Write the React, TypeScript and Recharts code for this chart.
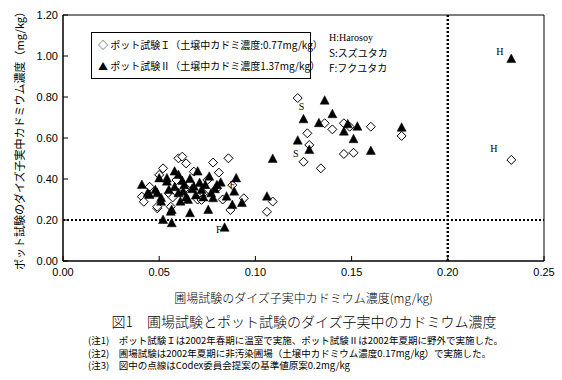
import React from 'react';
import { ScatterChart, Scatter, XAxis, YAxis, ReferenceLine, ReferenceArea } from 'recharts';

// ポット試験Ｉ (◇)
const potIx = [
  0.041, 0.042, 0.045, 0.049, 0.049, 0.050, 0.052, 0.055, 0.056, 0.057,
  0.059, 0.060, 0.062, 0.063, 0.064, 0.066, 0.068, 0.070, 0.072, 0.073,
  0.075, 0.078, 0.080, 0.081, 0.083, 0.086, 0.087, 0.088, 0.094, 0.106,
  0.109, 0.122, 0.125, 0.127, 0.128, 0.134, 0.136, 0.140, 0.146, 0.146,
  0.149, 0.151, 0.160, 0.176, 0.233,
];
const potIy = [
  0.314, 0.289, 0.362, 0.257, 0.265, 0.420, 0.452, 0.330, 0.265, 0.310,
  0.395, 0.501, 0.509, 0.350, 0.476, 0.379, 0.436, 0.300, 0.298, 0.330,
  0.395, 0.480, 0.355, 0.431, 0.300, 0.501, 0.249, 0.370, 0.306, 0.240,
  0.290, 0.795, 0.484, 0.623, 0.566, 0.452, 0.672, 0.642, 0.672, 0.522,
  0.655, 0.528, 0.655, 0.610, 0.493,
];

// ポット試験Ⅱ (▲)
const potIIx = [
  0.041, 0.044, 0.045, 0.048, 0.049, 0.050, 0.051, 0.051, 0.052, 0.054,
  0.054, 0.055, 0.056, 0.0565, 0.0565, 0.058, 0.058, 0.060, 0.061, 0.0625,
  0.063, 0.065, 0.066, 0.066, 0.068, 0.069, 0.070, 0.072, 0.074, 0.0755,
  0.076, 0.078, 0.079, 0.082, 0.084, 0.085, 0.088, 0.089, 0.090, 0.093,
  0.106, 0.109, 0.122, 0.125, 0.128, 0.133, 0.136, 0.140, 0.146, 0.148,
  0.151, 0.153, 0.160, 0.176, 0.233,
  0.060, 0.064, 0.067, 0.071, 0.073, 0.077, 0.080, 0.062,
];
const potIIy = [
  0.371, 0.330, 0.322, 0.346, 0.330, 0.403, 0.289, 0.307, 0.200, 0.387,
  0.403, 0.346, 0.240, 0.184, 0.249, 0.436, 0.360, 0.420, 0.289, 0.338,
  0.370, 0.298, 0.233, 0.400, 0.362, 0.320, 0.436, 0.346, 0.370, 0.249,
  0.411, 0.306, 0.350, 0.382, 0.162, 0.314, 0.273, 0.338, 0.403, 0.283,
  0.314, 0.498, 0.587, 0.691, 0.541, 0.672, 0.782, 0.716, 0.631, 0.667,
  0.594, 0.655, 0.537, 0.650, 0.985,
  0.330, 0.310, 0.350, 0.380, 0.310, 0.330, 0.370, 0.390,
];

// 品種ラベル
const varietyNames = ['H', 'H', 'S', 'S', 'F', 'F'];
const varietyX = [0.227, 0.224, 0.124, 0.121, 0.088, 0.081];
const varietyY = [1.02, 0.551, 0.756, 0.522, 0.371, 0.156];

const xTicks = [0, 0.05, 0.1, 0.15, 0.2, 0.25];
const yTicks = [0, 0.2, 0.4, 0.6, 0.8, 1.0, 1.2];
const codexLimit = 0.2;

const potI = potIx.map((x, i) => ({ x, y: potIy[i] }));
const potII = potIIx.map((x, i) => ({ x, y: potIIy[i] }));
const varieties = varietyNames.map((name, i) => ({ x: varietyX[i], y: varietyY[i], name }));

const jp = '"Noto Sans CJK JP", "Noto Sans", sans-serif';

const Diamond = (props: any) => {
  const { cx, cy } = props;
  const r = 4.5;
  return (
    <polygon
      points={`${cx},${cy - r} ${cx + r},${cy} ${cx},${cy + r} ${cx - r},${cy}`}
      fill="#fff"
      stroke="#000"
      strokeWidth={1}
    />
  );
};

const Triangle = (props: any) => {
  const { cx, cy } = props;
  return (
    <polygon
      points={`${cx},${cy - 5} ${cx + 4.5},${cy + 3.5} ${cx - 4.5},${cy + 3.5}`}
      fill="#000"
      stroke="#000"
      strokeWidth={0.5}
    />
  );
};

const VarietyText = (props: any) => {
  const { cx, cy, payload } = props;
  return (
    <text x={cx} y={cy} textAnchor="middle" dominantBaseline="central" fontSize={10} fontFamily='"Liberation Serif", serif' fill="#000">
      {payload.name}
    </text>
  );
};

const tickStyle = { fontSize: 11, fill: '#000', fontFamily: '"Liberation Sans", Arial, sans-serif' };

export default function App() {
  return (
    <div style={{ position: 'absolute', left: 0, top: 0, width: 562, height: 380, background: '#fff' }}>
      <ScatterChart width={562} height={310} margin={{ top: 15, right: 18, bottom: 0, left: 0 }}>
        <XAxis
          type="number"
          dataKey="x"
          domain={[0, 0.25]}
          ticks={xTicks}
          tickFormatter={(v: number) => v.toFixed(2)}
          height={49}
          tick={tickStyle}
          tickSize={-5}
          tickMargin={12}
          axisLine={{ stroke: '#000' }}
          tickLine={{ stroke: '#000' }}
          allowDataOverflow
          label={{
            value: '圃場試験のダイズ子実中カドミウム濃度(mg/kg)',
            position: 'insideBottom',
            offset: 7,
            style: { fontSize: 12, fill: '#000', fontFamily: jp, fontWeight: 300 },
          }}
        />
        <YAxis
          type="number"
          dataKey="y"
          domain={[0, 1.2]}
          ticks={yTicks}
          tickFormatter={(v: number) => v.toFixed(2)}
          width={63}
          tick={tickStyle}
          tickSize={-5}
          tickMargin={10}
          axisLine={{ stroke: '#000' }}
          tickLine={{ stroke: '#000' }}
          allowDataOverflow
          label={{
            value: 'ポット試験のダイズ子実中カドミウム濃度（mg/kg）',
            angle: -90,
            position: 'insideLeft',
            offset: 20,
            style: { fontSize: 11, fill: '#000', fontFamily: jp, textAnchor: 'middle' },
          }}
        />
        <ReferenceArea x1={0} x2={0.25} y1={0} y2={1.2} fill="none" stroke="#000" strokeWidth={1} />
        <ReferenceLine y={codexLimit} stroke="#000" strokeWidth={2} strokeDasharray="2 2" />
        <ReferenceLine x={codexLimit} stroke="#000" strokeWidth={2.5} strokeDasharray="2 2" />
        <Scatter data={potI} shape={Diamond} isAnimationActive={false} />
        <Scatter data={potII} shape={Triangle} isAnimationActive={false} />
        <Scatter data={varieties} shape={VarietyText} isAnimationActive={false} />
      </ScatterChart>

      <div
        style={{
          position: 'absolute', left: 91, top: 32, width: 212, height: 44,
          border: '1px solid #000', background: '#fff', fontFamily: jp, fontSize: 10,
          lineHeight: '21px', padding: '1px 0 0 6px', boxSizing: 'content-box', whiteSpace: 'nowrap',
        }}
      >
        <div>◇ ポット試験Ｉ（土壌中カドミ濃度:0.77mg/kg）</div>
        <div>▲ ポット試験Ⅱ（土壌中カドミ濃度1.37mg/kg）</div>
      </div>

      <div style={{ position: 'absolute', left: 329, top: 30, fontSize: 10, lineHeight: '15px', fontFamily: jp, whiteSpace: 'nowrap' }}>
        <div style={{ fontFamily: '"Liberation Serif", serif' }}>H:Harosoy</div>
        <div>S:スズユタカ</div>
        <div>F:フクユタカ</div>
      </div>

      <div style={{ position: 'absolute', left: 0, top: 311, width: 608, textAlign: 'center', fontFamily: jp, fontSize: 14, fontWeight: 300, whiteSpace: 'nowrap' }}>
        図1　圃場試験とポット試験のダイズ子実中のカドミウム濃度
      </div>
      <div style={{ position: 'absolute', left: 88, top: 334, fontFamily: jp, fontSize: 9.5, lineHeight: '12.5px', whiteSpace: 'nowrap' }}>
        <div>(注1)　ポット試験Ｉは2002年春期に温室で実施、ポット試験Ⅱは2002年夏期に野外で実施した。</div>
        <div>(注2)　圃場試験は2002年夏期に非汚染圃場（土壌中カドミウム濃度0.17mg/kg）で実施した。</div>
        <div>(注3)　図中の点線はCodex委員会提案の基準値原案0.2mg/kg</div>
      </div>
    </div>
  );
}
